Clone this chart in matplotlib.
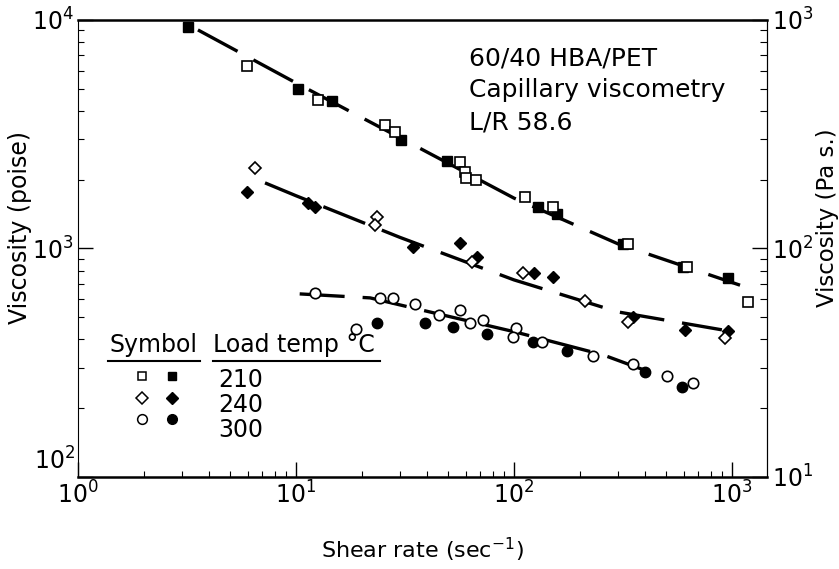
import matplotlib
matplotlib.use("Agg")
import matplotlib.pyplot as plt
from matplotlib.ticker import FuncFormatter
import numpy as np

# shear rate (1/s) and viscosity (poise)
# 210 C  (squares)
sq_open_x = [5.96, 12.6, 25.6, 28.5, 56.5, 59.6, 60.5, 67, 112, 151, 335, 625, 1184]
sq_open_y = [6300, 4470, 3470, 3240, 2390, 2160, 2040, 1995, 1680, 1520, 1047, 829, 584]
sq_fill_x = [3.2, 10.2, 14.6, 30.3, 49.3, 129, 157, 315, 595, 959]
sq_fill_y = [9320, 4990, 4430, 2990, 2420, 1520, 1415, 1050, 830, 743]

# 240 C  (diamonds)
dia_open_x = [6.49, 23.5, 23.0, 64, 110, 212, 333, 929]
dia_open_y = [2250, 1375, 1268, 870, 782, 589, 476, 405]
dia_fill_x = [5.96, 11.4, 12.2, 34.4, 56.5, 67.7, 123.5, 151, 351, 609, 959]
dia_fill_y = [1770, 1580, 1520, 1015, 1057, 919, 782, 750, 501, 439, 436]

# 300 C  (circles)
circ_open_x = [12.2, 18.9, 24.3, 27.9, 35.2, 45.3, 56.5, 62.9, 72.1, 102, 99, 134, 230, 352, 503, 662]
circ_open_y = [638, 445, 607, 607, 572, 512, 538, 472, 486, 449, 410, 390, 339, 312, 277, 258]
circ_fill_x = [23.5, 39.1, 52.5, 75.2, 122, 175, 399, 590]
circ_fill_y = [472, 472, 453, 423, 390, 356, 289, 248]

# hand-drawn trend lines
line210_x = [3.55, 10, 30, 100, 300, 1090]
line210_y = [9040, 5300, 3050, 1660, 1047, 690]
line240_x = [7.21, 10, 30, 100, 300, 900]
line240_y = [1935, 1700, 1117, 728, 527, 440]
line300_x = [10.4, 21.9, 42.5, 100, 256, 443]
line300_y = [632, 607, 523, 432, 342, 282]

temps = ["210", "240", "300"]
markers = ["s", "D", "o"]
sizes = [6.5, 6.5, 7.5]

plt.rcParams.update({'font.family': 'DejaVu Sans', 'font.size': 17})

fig = plt.figure(figsize=(8.39, 5.69), dpi=100)
ax = fig.add_axes([0.093, 0.162, 0.821, 0.803])
ax.set_xscale('log')
ax.set_yscale('log')

dash = dict(color='black', lw=2.4, dashes=(13.5, 5.4), zorder=2)
ax.plot(line210_x, line210_y, **dash)
ax.plot(line240_x, line240_y, **dash)
ax.plot(line300_x, line300_y, **dash)

series = [
    (sq_open_x, sq_open_y, sq_fill_x, sq_fill_y),
    (dia_open_x, dia_open_y, dia_fill_x, dia_fill_y),
    (circ_open_x, circ_open_y, circ_fill_x, circ_fill_y),
]
for (ox, oy, fx, fy), m, s in zip(series, markers, sizes):
    ax.plot(fx, fy, ls='none', marker=m, ms=s, mfc='black', mec='black', zorder=3)
    ax.plot(ox, oy, ls='none', marker=m, ms=s, mfc='white', mec='black', mew=1.2, zorder=4)

ax.set_xlim(1, 1447)
ax.set_ylim(100, 10000)


def pow10(v, pos):
    # bottom left label is drawn by hand a bit higher, as in the original
    if v < 150:
        return ''
    return r'$\mathdefault{10^{%d}}$' % int(round(np.log10(v)))


ax.yaxis.set_major_formatter(FuncFormatter(pow10))
ax.text(-0.004, 0.035, r'$\mathdefault{10^{2}}$', transform=ax.transAxes,
        ha='right', va='center', fontsize=17)

ax.tick_params(which='major', direction='in', length=11, width=1, pad=3, top=False, labelsize=17)
ax.tick_params(which='minor', direction='in', length=4, width=0.8, top=False)
ax.spines['top'].set_linewidth(1.8)
ax.spines['bottom'].set_linewidth(1.8)
ax.spines['left'].set_linewidth(0.8)
ax.spines['right'].set_linewidth(0.8)

# right hand axis in Pa s
ax2 = ax.twinx()
ax2.set_yscale('log')
ax2.set_ylim(10, 1000)
ax2.tick_params(which='major', direction='in', length=11, width=1, pad=4, labelsize=17)
ax2.tick_params(which='minor', direction='in', length=5, width=0.8)
for side in ['top', 'bottom', 'left']:
    ax2.spines[side].set_visible(False)
ax2.spines['right'].set_linewidth(0.8)

fig.text(0.024, 0.600, 'Viscosity (poise)', rotation=90, ha='center', va='center', fontsize=17)
fig.text(0.986, 0.617, 'Viscosity (Pa s.)', rotation=90, ha='center', va='center', fontsize=16.5)
fig.text(0.503, 0.033, 'Shear rate (sec$^{-1}$)', ha='center', va='center', fontsize=16)

ax.text(0.5675, 0.941, "60/40 HBA/PET\nCapillary viscometry\nL/R 58.6",
        transform=ax.transAxes, ha='left', va='top', fontsize=18, linespacing=1.4)

# symbol key drawn by hand like the original
ax.text(0.0464, 0.2735, 'Symbol', transform=ax.transAxes, va='baseline', fontsize=17)
ax.text(0.196, 0.2735, 'Load temp \u00b0C', transform=ax.transAxes, va='baseline', fontsize=17)
ax.plot([0.0435, 0.177], [0.254, 0.254], transform=ax.transAxes, color='black', lw=1.5, clip_on=False)
ax.plot([0.196, 0.438], [0.254, 0.254], transform=ax.transAxes, color='black', lw=1.5, clip_on=False)
key_y = [0.221, 0.173, 0.127]
label_y = [0.212, 0.158, 0.103]
for t, m, s, ky, ly in zip(temps, markers, sizes, key_y, label_y):
    ax.plot([0.0929], [ky], transform=ax.transAxes, ls='none', marker=m, ms=s - 0.5,
            mfc='white', mec='black', mew=1.1)
    ax.plot([0.1364], [ky], transform=ax.transAxes, ls='none', marker=m, ms=s - 0.5,
            mfc='black', mec='black')
    ax.text(0.203, ly, t, transform=ax.transAxes, va='center', fontsize=17)

ax.set_xlim(1, 1447)
ax.set_ylim(100, 10000)

fig.savefig('out.png', dpi=100)
plt.close("all")
